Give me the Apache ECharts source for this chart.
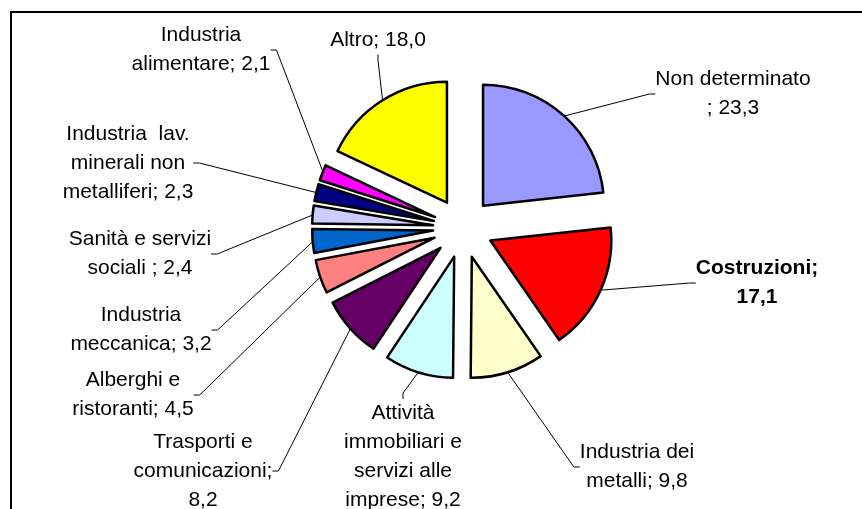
<!DOCTYPE html>
<html>
<head>
<meta charset="utf-8">
<script src="https://cdn.jsdelivr.net/npm/echarts@6/dist/echarts.min.js"></script>
<style>
  html, body { margin: 0; padding: 0; background: #fff; }
  #chart { width: 862px; height: 509px; }
</style>
</head>
<body>
<div id="chart"></div>
<script>
// Data
const categories = [
  'Non determinato',
  'Costruzioni',
  'Industria dei metalli',
  'Attività immobiliari e servizi alle imprese',
  'Trasporti e comunicazioni',
  'Alberghi e ristoranti',
  'Industria meccanica',
  'Sanità e servizi sociali',
  'Industria lav. minerali non metalliferi',
  'Industria alimentare',
  'Altro'
];
const values = [23.3, 17.1, 9.8, 9.2, 8.2, 4.5, 3.2, 2.4, 2.3, 2.1, 18.0];
// label text wrapped as in the original, {v} is replaced by the value
const labelText = [
  'Non determinato\n; {v}',
  'Costruzioni;\n{v}',
  'Industria dei\nmetalli; {v}',
  'Attività\nimmobiliari e\nservizi alle\nimprese; {v}',
  'Trasporti e\ncomunicazioni;\n{v}',
  'Alberghi e\nristoranti; {v}',
  'Industria\nmeccanica; {v}',
  'Sanità e servizi\nsociali ; {v}',
  'Industria  lav.\nminerali non\nmetalliferi; {v}',
  'Industria\nalimentare; {v}',
  'Altro; {v}'
];
const colors = ['#9999FF', '#FF0000', '#FFFFCC', '#CCFFFF', '#660066', '#FF8080',
  '#0066CC', '#CCCCFF', '#000080', '#FF00FF', '#FFFF00'];

// label placement (centre of each text block), hand placed like the original
const labelPos = [
  [733, 94], [757, 283], [637, 467], [403, 457], [203, 471], [133, 395],
  [141, 330], [140, 254], [128, 163], [201, 50], [378, 40]
];

const fmt = (v) => v.toFixed(1).replace('.', ',');

const chart = echarts.init(document.getElementById('chart'));

const pieCenter = [463, 228];

const option = {
  animation: false,
  graphic: [
    {
      type: 'rect',
      shape: { x: 11, y: 12, width: 1000, height: 1000 },
      style: { fill: 'none', stroke: '#000', lineWidth: 2 },
      silent: true
    }
  ],
  series: [
    // exploded slices
    {
      type: 'pie',
      center: pieCenter,
      radius: 121,
      startAngle: 90,
      clockwise: true,
      selectedMode: 'multiple',
      selectedOffset: 30,
      silent: true,
      itemStyle: { borderColor: '#000', borderWidth: 2.5 },
      label: { show: false },
      labelLine: { show: false },
      emphasis: { disabled: true },
      data: values.map((v, i) => ({
        name: categories[i],
        value: v,
        selected: true,
        itemStyle: { color: colors[i] }
      }))
    },
    // invisible copy reaching the outer edge of the exploded slices, carries the labels
    {
      type: 'pie',
      center: pieCenter,
      radius: 150,
      startAngle: 90,
      clockwise: true,
      silent: true,
      avoidLabelOverlap: false,
      itemStyle: { color: 'rgba(0,0,0,0)', borderWidth: 0 },
      label: {
        show: true,
        position: 'outside',
        color: '#000',
        fontFamily: 'Liberation Sans, Arial, sans-serif',
        fontSize: 21,
        lineHeight: 29,
        align: 'center',
        formatter: (p) => labelText[p.dataIndex].replace('{v}', fmt(p.value))
      },
      labelLine: {
        show: true,
        length: 10,
        length2: 6,
        lineStyle: { color: '#000', width: 1 }
      },
      labelLayout: (p) => ({
        x: labelPos[p.dataIndex][0],
        y: labelPos[p.dataIndex][1],
        align: 'center',
        verticalAlign: 'middle'
      }),
      emphasis: { disabled: true },
      data: values.map((v, i) => ({
        name: categories[i],
        value: v,
        label: i === 1 ? { fontWeight: 'bold' } : {}
      }))
    }
  ]
};

chart.setOption(option);
</script>
</body>
</html>
